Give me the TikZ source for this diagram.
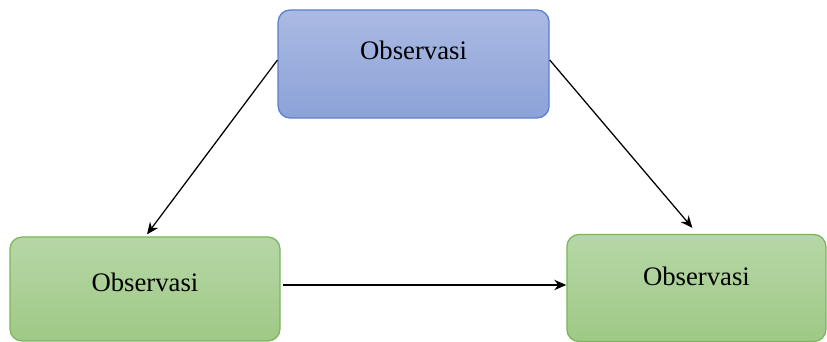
\documentclass[tikz,border=0pt]{standalone}
\usepackage{fontspec}
\setmainfont{Liberation Serif}
\usepackage{tikz}
\usetikzlibrary{arrows.meta, positioning, calc}

\definecolor{bluetop}{HTML}{AABAE2}
\definecolor{bluebot}{HTML}{8CA2D8}
\definecolor{blueline}{HTML}{5A7FCB}
\definecolor{greentop}{HTML}{B6D7A6}
\definecolor{greenbot}{HTML}{9FC986}
\definecolor{greenline}{HTML}{7BB65D}

\tikzset{
  obsbox/.style={rounded corners=0.3cm, line width=0.9pt, inner sep=0pt,
    font=\fontsize{19}{22}\selectfont},
  obsblue/.style={obsbox, draw=blueline, top color=bluetop, bottom color=bluebot},
  obsgreen/.style={obsbox, draw=greenline, top color=greentop, bottom color=greenbot},
  obsarrow/.style={-{Stealth[length=3mm, width=2.6mm]}, line width=0.9pt}
}

\begin{document}
\begin{tikzpicture}
\useasboundingbox (0,0) rectangle (20.675,8.55);
\node[obsblue, minimum width=6.775cm, text height=1.25cm, text depth=1.45cm] (obs1) at (10.34,6.95) {Observasi};
\node[obsgreen, minimum width=6.75cm, text height=1.375cm, text depth=1.225cm] (obs2) at (3.625,1.325) {Observasi};
\node[obsgreen, minimum width=6.475cm, text height=1.275cm, text depth=1.4cm] (obs3) at (17.41,1.35) {Observasi};
\coordinate (start) at ($(obs2.east)+(0.05,0.1)$);
\draw[obsarrow] ($(obs1.west)+(0,0.1)$) -- ($(obs2.north)+(0.05,0.05)$);
\draw[obsarrow] ($(obs1.east)+(0,0.1)$) -- ($(obs3.north)+(-0.1,0.15)$);
\draw[obsarrow] (start) -- (start -| obs3.west);
\end{tikzpicture}
\end{document}
